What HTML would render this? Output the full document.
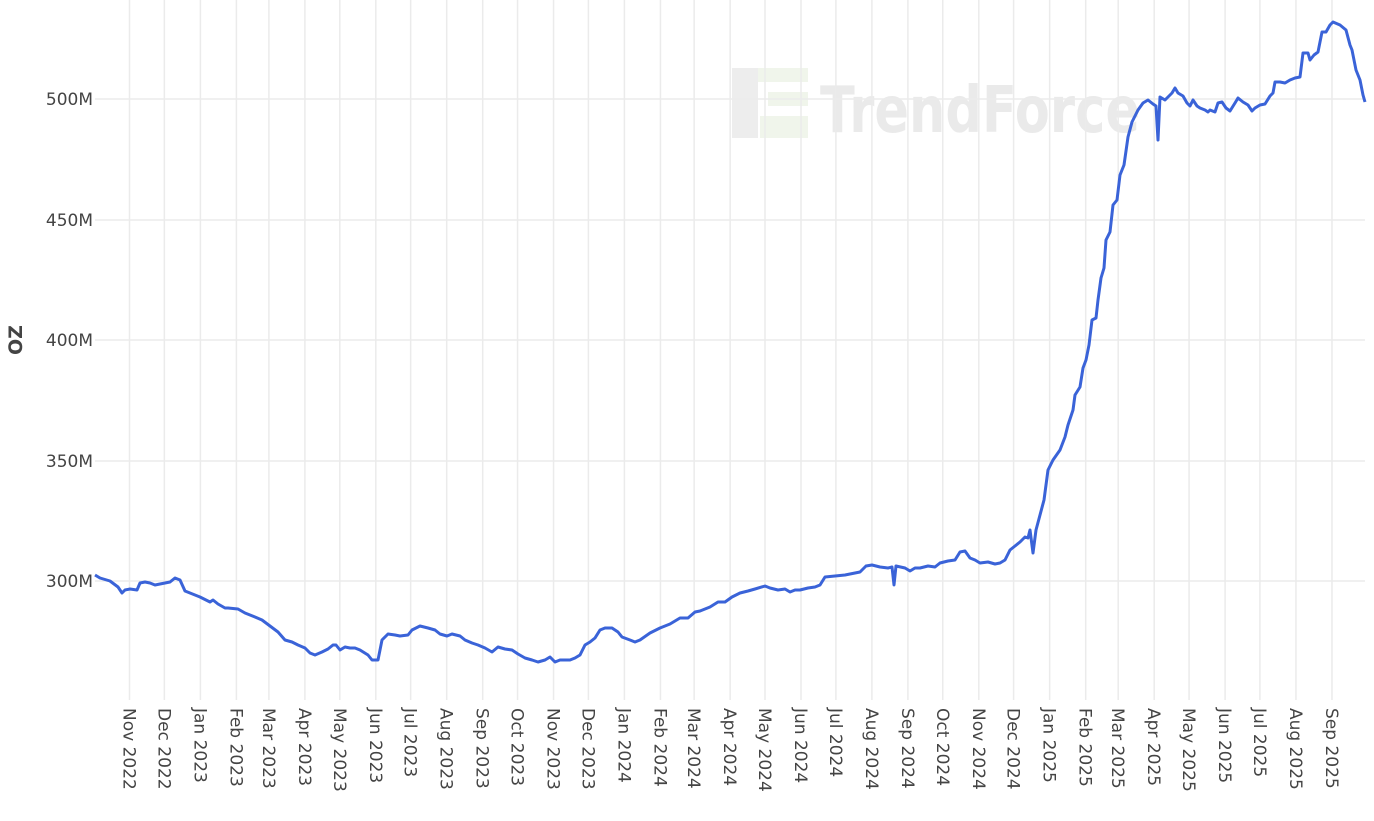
<!DOCTYPE html>
<html><head><style>
html,body{margin:0;padding:0;background:#fff;}
svg text{font-family:"DejaVu Sans","Liberation Sans",sans-serif;}
</style></head><body>
<svg width="1374" height="816" xmlns="http://www.w3.org/2000/svg">
<g opacity="0.5">
<rect x="732" y="68" width="26" height="70" fill="#dcdcdc"/>
<rect x="758" y="68" width="50" height="14" fill="#e3ecd9"/>
<rect x="768" y="92" width="40" height="14" fill="#e3ecd9"/>
<rect x="760" y="116" width="48" height="22" fill="#e3ecd9"/>
<text x="820" y="132" font-size="64" font-weight="bold" fill="#d6d6d6" textLength="320" lengthAdjust="spacingAndGlyphs">TrendForce</text>
</g>
<g stroke="#ebebeb" stroke-width="1.5" id="grid"></g>
<g font-size="17" fill="#444" text-anchor="end">
<text x="93" y="105">500M</text><text x="93" y="226">450M</text><text x="93" y="346">400M</text><text x="93" y="467">350M</text><text x="93" y="587">300M</text>
</g>
<text transform="translate(22,340) rotate(-90)" font-size="19" font-weight="bold" fill="#444" text-anchor="middle">OZ</text>
<g id="xl" font-size="17" fill="#444"></g>
<polyline fill="none" stroke="#3a63d8" stroke-width="3" stroke-linejoin="round" points="95,575 100,578 110,581 118,587 122,593 125,590 130,589 137,590 140,583 145,582 150,583 155,585 160,584 170,582 175,578 180,580 185,591 190,593 200,597 210,602 213,600 218,604 225,608 228,608 238,609 245,613 255,617 262,620 270,626 278,632 285,640 292,642 298,645 305,648 310,653 315,655 322,652 328,649 333,645 336,645 340,650 345,647 350,648 355,648 360,650 368,655 372,660 378,660 382,640 388,634 395,635 400,636 408,635 412,630 420,626 428,628 435,630 440,634 447,636 452,634 460,636 465,640 472,643 478,645 485,648 492,652 498,647 505,649 512,650 518,654 525,658 532,660 538,662 545,660 550,657 555,662 560,660 570,660 575,658 580,655 585,645 590,642 595,638 600,630 605,628 612,628 618,632 622,637 630,640 635,642 640,640 650,633 660,628 670,624 680,618 688,618 695,612 700,611 710,607 718,602 725,602 732,597 740,593 748,591 755,589 765,586 770,588 778,590 785,589 790,592 795,590 800,590 808,588 815,587 820,585 825,577 835,576 845,575 850,574 860,572 866,566 872,565 880,567 888,568 892,567 894,585 896,566 905,568 910,571 915,568 920,568 928,566 935,567 940,563 948,561 955,560 960,552 965,551 970,558 975,560 980,563 988,562 995,564 1000,563 1005,560 1010,550 1015,546 1020,542 1025,537 1028,538 1030,530 1033,553 1036,530 1040,515 1044,500 1048,470 1053,460 1060,450 1065,437 1068,425 1073,410 1075,395 1080,387 1083,368 1086,360 1089,345 1092,320 1096,318 1098,300 1101,278 1104,268 1106,240 1110,232 1113,205 1117,200 1120,175 1124,165 1128,137 1132,122 1138,110 1143,103 1148,100 1153,104 1156,106 1158,140 1160,97 1165,100 1172,93 1175,88 1178,93 1183,96 1187,103 1190,106 1193,100 1197,106 1200,108 1205,110 1208,112 1210,110 1215,112 1218,103 1222,102 1226,108 1230,111 1235,103 1238,98 1243,102 1248,105 1252,111 1255,108 1260,105 1265,104 1270,96 1273,93 1275,82 1280,82 1285,83 1290,80 1295,78 1300,77 1303,53 1308,53 1310,60 1314,55 1318,52 1322,32 1326,32 1330,25 1333,22 1340,25 1346,30 1350,45 1352,50 1356,70 1360,80 1363,95 1365,102"/>
</svg>
<script>
var ns="http://www.w3.org/2000/svg",g=document.getElementById('grid'),xl=document.getElementById('xl');
[99,220,340,461,581].forEach(function(y){var l=document.createElementNS(ns,'line');l.setAttribute('x1',95);l.setAttribute('x2',1365);l.setAttribute('y1',y);l.setAttribute('y2',y);g.appendChild(l);});
var m=['Jan','Feb','Mar','Apr','May','Jun','Jul','Aug','Sep','Oct','Nov','Dec'];
var t0=Date.UTC(2022,10,1);
for(var i=0;i<35;i++){var yr=2022+Math.floor((10+i)/12),mo=(10+i)%12;var d=(Date.UTC(yr,mo,1)-t0)/864e5;var x=129.5+d*1.1618;
var l=document.createElementNS(ns,'line');l.setAttribute('x1',x);l.setAttribute('x2',x);l.setAttribute('y1',0);l.setAttribute('y2',700);g.appendChild(l);
var t=document.createElementNS(ns,'text');t.setAttribute('transform','translate('+(x-6)+',708) rotate(90)');t.textContent=m[mo]+' '+yr;xl.appendChild(t);}
</script>
</body></html>
